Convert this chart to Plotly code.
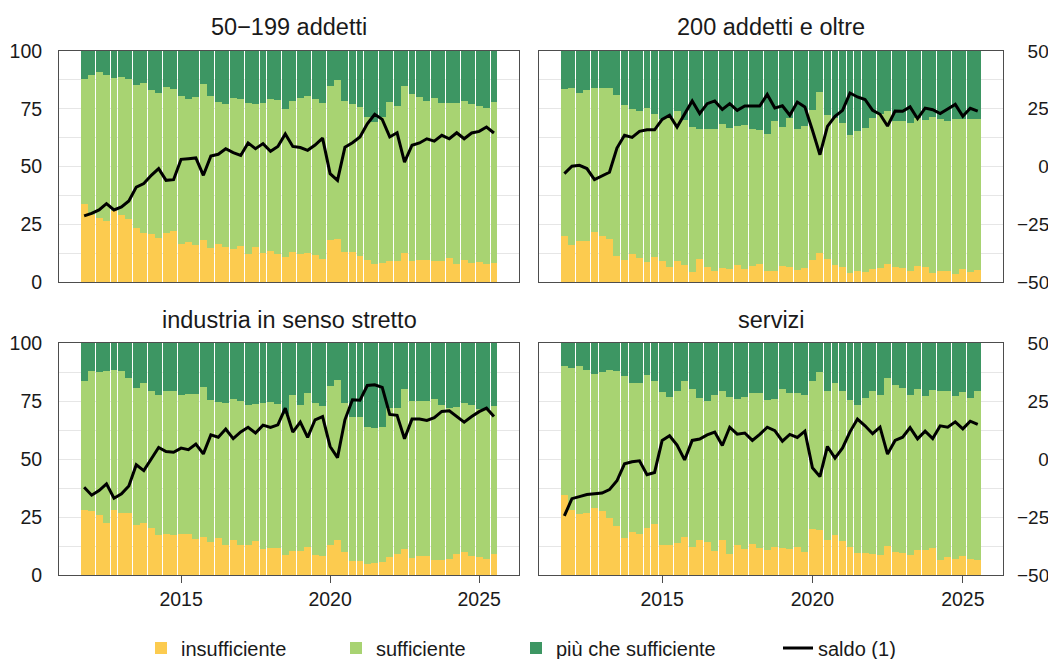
import pandas as pd
import plotly.graph_objects as go

# trimestri: 2011 T4 - 2025 T3
quarters = pd.date_range("2011-10-01", periods=56, freq="QS")

# 50-199 addetti
ins_50 = [33.6, 29.0, 27.7, 26.3, 30.6, 29.0, 27.1, 23.4, 21.2, 20.6, 19.0, 21.1, 21.9, 16.6,
          17.3, 16.0, 18.3, 14.7, 16.5, 15.2, 14.3, 15.6, 12.3, 15.0, 12.6, 13.4, 12.3, 10.7,
          12.8, 12.1, 12.6, 11.7, 9.8, 18.0, 18.5, 13.1, 13.0, 11.1, 9.5, 7.8, 8.1, 8.9,
          8.9, 12.6, 8.9, 9.4, 9.4, 8.9, 8.9, 10.2, 7.8, 9.4, 8.2, 8.7, 7.8, 8.1]
suff_50 = [54.1, 60.6, 63.1, 63.5, 57.7, 59.7, 60.6, 61.9, 64.8, 62.5, 63.0, 63.2, 61.6, 63.9,
           61.9, 63.9, 67.3, 65.8, 61.4, 61.9, 65.2, 63.6, 65.2, 62.1, 64.9, 66.0, 66.3, 64.0,
           65.6, 67.4, 67.8, 67.5, 67.7, 66.8, 68.8, 65.3, 64.2, 64.5, 61.9, 61.5, 63.2, 69.0,
           67.3, 72.2, 72.6, 70.7, 69.0, 70.8, 68.6, 67.3, 69.7, 68.8, 68.9, 67.5, 67.5, 69.7]
piu_50 = [12.3, 10.4, 9.2, 10.2, 11.7, 11.3, 12.3, 14.7, 14.0, 16.9, 18.0, 15.7, 16.5, 19.5,
          20.8, 20.1, 14.4, 19.5, 22.1, 22.9, 20.5, 20.8, 22.5, 22.9, 22.5, 20.6, 21.4, 25.3,
          21.6, 20.5, 19.6, 20.8, 22.5, 15.2, 12.7, 21.6, 22.8, 24.4, 28.6, 30.7, 28.7, 22.1,
          23.8, 15.2, 18.5, 19.9, 21.6, 20.3, 22.5, 22.5, 22.5, 21.8, 22.9, 23.8, 24.7, 22.2]
saldo_50 = [-21.4, -20.3, -18.8, -16.1, -18.8, -17.5, -14.9, -8.9, -7.4, -3.8, -0.9, -6.0, -5.7, 3.1,
            3.4, 3.7, -3.8, 4.5, 5.3, 7.7, 6.0, 4.8, 10.2, 7.7, 9.9, 6.6, 8.7, 14.1,
            8.7, 8.2, 7.0, 9.3, 12.3, -3.1, -6.0, 8.4, 10.3, 12.8, 18.5, 22.6, 20.4, 12.8,
            14.6, 1.9, 9.2, 10.2, 12.0, 11.0, 13.5, 12.0, 14.6, 12.0, 14.5, 15.2, 17.1, 14.5]

# 200 addetti e oltre
ins_200 = [19.8, 15.9, 17.6, 17.6, 21.5, 19.8, 18.5, 11.1, 9.5, 12.1, 10.5, 8.7, 10.7, 9.1,
           6.3, 8.9, 7.2, 4.3, 9.8, 6.3, 4.8, 5.9, 5.5, 7.2, 5.6, 6.9, 7.6, 4.8,
           4.8, 6.8, 6.3, 5.2, 5.9, 9.5, 12.6, 9.8, 7.4, 6.5, 3.9, 4.8, 4.5, 5.5,
           5.9, 7.8, 6.5, 6.1, 4.8, 6.9, 6.3, 3.8, 4.9, 4.8, 3.5, 5.5, 4.5, 5.2]
suff_200 = [63.6, 67.9, 64.2, 65.4, 62.5, 64.2, 65.5, 69.9, 67.0, 62.8, 63.5, 66.5, 62.0, 61.4,
            65.2, 65.1, 63.0, 63.0, 56.4, 60.1, 61.4, 62.4, 61.3, 60.3, 62.5, 59.2, 58.3, 59.3,
            64.8, 60.3, 64.7, 61.2, 61.6, 64.8, 69.7, 62.4, 63.5, 62.3, 59.9, 60.6, 62.0, 65.4,
            67.0, 66.4, 63.1, 63.6, 64.2, 64.1, 63.8, 67.6, 65.7, 65.0, 66.9, 64.9, 65.9, 65.2]
piu_200 = [16.6, 16.2, 18.2, 17.0, 16.0, 16.0, 16.0, 19.0, 23.5, 25.1, 26.0, 24.8, 27.3, 29.5,
           28.5, 26.0, 29.8, 32.7, 33.8, 33.6, 33.8, 31.7, 33.2, 32.5, 31.9, 33.9, 34.1, 35.9,
           30.4, 32.9, 29.0, 33.6, 32.5, 25.7, 17.7, 27.8, 29.1, 31.2, 36.2, 34.6, 33.5, 29.1,
           27.1, 25.8, 30.4, 30.3, 31.0, 29.0, 29.9, 28.6, 29.4, 30.2, 29.6, 29.6, 29.6, 29.6]
saldo_200 = [-3.1, 0.1, 0.5, -0.9, -5.7, -4.0, -2.5, 8.0, 13.5, 12.6, 15.2, 15.9, 15.9, 20.4,
             22.2, 17.1, 22.6, 28.4, 22.9, 27.2, 28.4, 24.7, 27.2, 24.3, 26.2, 26.2, 26.2, 31.2,
             25.3, 26.3, 22.2, 27.9, 25.8, 15.7, 5.1, 17.4, 21.7, 24.3, 31.8, 30.1, 29.0, 24.3,
             22.6, 17.5, 24.0, 23.9, 25.8, 20.7, 25.3, 24.6, 22.9, 24.9, 26.9, 21.7, 25.2, 24.0]

# industria in senso stretto
ins_ind = [28.1, 27.6, 25.9, 22.6, 28.1, 26.8, 26.8, 21.6, 22.4, 20.3, 17.3, 17.8, 17.4, 17.8,
           17.8, 15.7, 16.4, 14.4, 16.0, 12.9, 15.3, 12.9, 12.9, 14.7, 11.2, 11.7, 11.7, 8.6,
           10.5, 10.5, 12.1, 8.6, 8.3, 12.9, 15.1, 10.1, 6.2, 6.2, 4.7, 5.2, 5.6, 7.9,
           9.1, 11.1, 7.5, 8.2, 8.2, 6.5, 6.5, 7.1, 9.1, 9.9, 8.3, 7.9, 6.9, 9.2]
suff_ind = [55.6, 60.5, 61.7, 65.5, 60.4, 61.3, 58.2, 59.1, 60.2, 59.1, 60.4, 61.3, 61.7, 59.9,
            60.3, 62.4, 64.8, 61.1, 58.7, 61.3, 60.5, 62.2, 60.5, 59.1, 63.0, 63.0, 62.1, 60.9,
            67.2, 62.9, 66.5, 65.6, 64.6, 68.7, 69.1, 64.1, 62.0, 62.0, 59.2, 58.0, 58.0, 64.3,
            63.0, 69.2, 67.6, 66.9, 66.9, 69.5, 66.9, 65.0, 63.4, 64.3, 65.1, 63.8, 64.8, 63.7]
piu_ind = [16.3, 11.9, 12.4, 11.9, 11.5, 11.9, 15.0, 19.3, 17.4, 20.6, 22.3, 20.9, 20.9, 22.3,
           21.9, 21.9, 18.8, 24.5, 25.3, 25.8, 24.2, 24.9, 26.6, 26.2, 25.8, 25.3, 26.2, 30.5,
           22.3, 26.6, 21.4, 25.8, 27.1, 18.4, 15.8, 25.8, 31.8, 31.8, 36.1, 36.8, 36.4, 27.8,
           27.9, 19.7, 24.9, 24.9, 24.9, 24.0, 26.6, 27.9, 27.5, 25.8, 26.6, 28.3, 28.3, 27.1]
saldo_ind = [-12.2, -15.6, -13.6, -10.7, -16.9, -15.0, -11.6, -2.5, -5.0, -0.1, 5.0, 3.2, 2.9, 4.7,
             4.0, 6.4, 2.2, 10.4, 9.4, 12.9, 8.8, 11.7, 13.7, 11.2, 14.6, 13.6, 14.7, 21.9,
             11.6, 15.9, 9.3, 16.9, 18.3, 5.4, 0.6, 16.9, 25.5, 25.3, 31.7, 32.0, 30.9, 19.2,
             18.8, 8.7, 17.2, 17.2, 16.6, 17.8, 20.5, 20.8, 18.3, 15.9, 18.3, 20.4, 21.9, 18.3]

# servizi
ins_ser = [34.5, 28.1, 26.3, 26.9, 28.8, 27.6, 24.6, 21.2, 16.1, 18.6, 17.8, 20.3, 22.2, 12.9,
           12.9, 14.0, 16.4, 11.9, 15.1, 14.4, 10.5, 15.1, 9.2, 12.9, 11.2, 13.4, 11.7, 10.9,
           12.1, 11.7, 11.4, 12.1, 10.1, 20.0, 19.6, 15.1, 17.3, 14.8, 12.1, 9.6, 9.6, 9.2,
           8.5, 12.7, 9.9, 9.5, 8.8, 10.9, 10.9, 11.7, 6.5, 7.6, 6.9, 8.3, 7.1, 6.3]
suff_ser = [55.7, 61.0, 63.9, 61.6, 57.7, 59.7, 63.9, 66.9, 69.8, 64.3, 65.1, 66.0, 61.5, 65.8,
            63.9, 65.4, 67.3, 68.1, 61.3, 60.7, 67.2, 64.0, 67.6, 63.1, 65.6, 65.2, 66.6, 64.4,
            63.6, 68.6, 67.2, 66.5, 67.6, 63.7, 68.0, 64.3, 65.3, 64.6, 63.4, 63.8, 66.8, 70.2,
            69.2, 72.2, 72.1, 71.2, 68.9, 69.1, 66.4, 67.9, 72.9, 71.8, 70.4, 70.4, 69.3, 73.1]
piu_ser = [9.8, 10.9, 9.8, 11.5, 13.5, 12.7, 11.5, 11.9, 14.1, 17.1, 17.1, 13.7, 16.3, 21.3,
           23.2, 20.6, 16.3, 20.0, 23.6, 24.9, 22.3, 20.9, 23.2, 24.0, 23.2, 21.4, 21.7, 24.7,
           24.3, 19.7, 21.4, 21.4, 22.3, 16.3, 12.4, 20.6, 17.4, 20.6, 24.5, 26.6, 23.6, 20.6,
           22.3, 15.1, 18.0, 19.3, 22.3, 20.0, 22.7, 20.4, 20.6, 20.6, 22.7, 21.3, 23.6, 20.6]
saldo_ser = [-24.5, -17.1, -16.2, -15.3, -15.0, -14.7, -13.2, -9.4, -2.1, -1.2, -0.8, -6.8, -5.8, 8.0,
             10.0, 6.0, -0.4, 8.0, 8.6, 10.4, 11.6, 5.8, 13.7, 10.7, 11.2, 8.0, 10.6, 13.7,
             12.2, 7.7, 10.6, 9.3, 12.0, -3.8, -7.6, 5.4, 0.4, 4.8, 11.7, 17.2, 14.3, 10.9,
             13.7, 2.1, 8.0, 9.4, 13.5, 8.7, 12.0, 8.8, 14.3, 13.7, 16.0, 13.0, 16.3, 14.9]

# tick labels of the right axis (figure spaces keep them right-aligned)
saldo_ticks = [-50, -25, 0, 25, 50]
saldo_ticktext = ["\u221250", "\u221225", "\u2007\u20070", "\u200725", "\u200750"]

panels = [
    ("50\u2212199 addetti", ins_50, suff_50, piu_50, saldo_50),
    ("200 addetti e oltre", ins_200, suff_200, piu_200, saldo_200),
    ("industria in senso stretto", ins_ind, suff_ind, piu_ind, saldo_ind),
    ("servizi", ins_ser, suff_ser, piu_ser, saldo_ser),
]

COLORS = {
    "insufficiente": "#FCCB4F",
    "sufficiente": "#A8D372",
    "più che sufficiente": "#3D9663",
    "saldo (1)": "#000000",
}
FONT = "Liberation Sans, Arial, sans-serif"
TEXT = "#1a1a1a"
FRAME = "#4d4d4d"
GRID = "#e6e6e6"

# the page puts the figure 8 px from its top-left corner; positions below are page pixels
OFF = 8
FIG_W, FIG_H = 1056 - OFF, 659 - OFF
L, R, T, B = 59 - OFF, 0, 51 - OFF, 659 - 575
W, H = FIG_W - L - R, FIG_H - T - B


def px_x(v):
    return (v - OFF - L) / W


def px_y(v):
    return (FIG_H - B - (v - OFF)) / H


x_dom = [[0, px_x(519)], [px_x(539), px_x(1003)]]
y_dom = [[px_y(282), 1], [0, px_y(343)]]
x_range = ["2010-11-27", "2026-05-04"]

fig = go.Figure()
layout = {}

for k, (title, ins, suff, piu, saldo) in enumerate(panels, start=1):
    col, row = (k - 1) % 2, (k - 1) // 2
    xa = "x" if k == 1 else f"x{k}"
    yb = "y" if k == 1 else f"y{2 * k - 1}"
    yl = f"y{2 * k}"
    first = k == 1

    for name, vals, leg in [("insufficiente", ins, "legend"),
                            ("sufficiente", suff, "legend2"),
                            ("più che sufficiente", piu, "legend3")]:
        fig.add_trace(go.Bar(
            x=quarters, y=vals, name=name, xaxis=xa, yaxis=yb,
            marker_color=COLORS[name], marker_line_width=0,
            showlegend=first, legend=leg,
        ))
    fig.add_trace(go.Scatter(
        x=quarters, y=saldo, name="saldo (1)", mode="lines", xaxis=xa, yaxis=yl,
        line={"color": COLORS["saldo (1)"], "width": 3},
        showlegend=first, legend="legend4",
    ))

    bottom = row == 1
    layout["xaxis" if k == 1 else f"xaxis{k}"] = {
        "domain": x_dom[col], "anchor": yb, "type": "date", "range": x_range,
        "showgrid": False, "showline": True, "mirror": True,
        "linecolor": FRAME, "linewidth": 1,
        "tickvals": ["2015-01-01", "2020-01-01", "2025-01-01"],
        "ticktext": ["2015", "2020", "2025"],
        "showticklabels": bottom, "ticks": "outside" if bottom else "",
        "ticklen": 7, "tickcolor": FRAME,
    }
    layout["yaxis" if k == 1 else f"yaxis{2 * k - 1}"] = {
        "domain": y_dom[row], "anchor": xa, "range": [0, 100],
        "tickvals": [0, 25, 50, 75, 100], "showticklabels": col == 0,
        "ticks": "", "ticklabelstandoff": 12,
        "showgrid": True, "gridcolor": GRID, "zeroline": False,
        "minor": {"tickvals": [12.5, 37.5, 62.5, 87.5], "showgrid": True, "gridcolor": GRID},
        "showline": True, "mirror": True, "linecolor": FRAME, "linewidth": 1,
    }
    sec = {
        "overlaying": yb, "anchor": xa, "side": "right", "range": [-50, 50],
        "showgrid": False, "zeroline": False,
    }
    if col == 0:
        sec["visible"] = False
    else:
        sec.update({
            "tickvals": saldo_ticks, "ticktext": saldo_ticktext,
            "ticks": "", "ticklabelstandoff": 13, "showline": False,
            "tickfont": {"size": 19},
        })
    layout[f"yaxis{2 * k}"] = sec

    # panel title
    fig.add_annotation(
        text=title, xref="paper", yref="paper",
        x=sum(x_dom[col]) / 2, y=px_y(27 if row == 0 else 320),
        xanchor="center", yanchor="middle", showarrow=False,
        font={"size": 23.5, "color": TEXT},
    )

legend_base = {"orientation": "h", "yanchor": "middle", "xanchor": "left",
               "y": px_y(648), "bgcolor": "rgba(0,0,0,0)", "font": {"size": 20, "color": TEXT}}
for leg, text_x in [("legend", 181), ("legend2", 376), ("legend3", 556), ("legend4", 818)]:
    layout[leg] = dict(legend_base, x=px_x(text_x - 40))

fig.update_layout(
    **layout,
    width=FIG_W, height=FIG_H,
    margin={"l": L, "r": R, "t": T, "b": B, "autoexpand": False},
    barmode="stack", bargap=0.06,
    plot_bgcolor="white", paper_bgcolor="white",
    font={"family": FONT, "size": 19.5, "color": TEXT},
)

fig.write_html("out.html")
